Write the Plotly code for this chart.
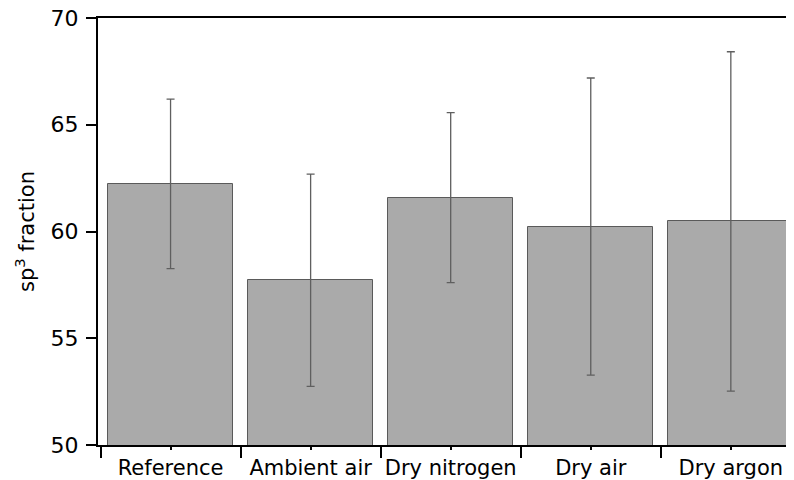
import plotly.graph_objects as go

categories = ["Reference", "Ambient air", "Dry nitrogen", "Dry air", "Dry argon"]
sp3_fraction = [62.23, 57.72, 61.59, 60.23, 60.47]
sp3_error = [3.97, 4.97, 3.98, 6.96, 7.95]
y_ticks = [50, 55, 60, 65, 70]

xpos = list(range(len(categories)))
bounds = [i - 0.5 for i in range(len(categories) + 1)]

fig = go.Figure()
fig.add_trace(go.Bar(
    x=xpos, y=sp3_fraction, width=0.893,
    marker=dict(color="#aaaaaa", line=dict(color="#5a5a5a", width=1)),
    error_y=dict(type="data", array=sp3_error, visible=True,
                 color="#5f5f5f", thickness=1.3, width=4),
))

fig.update_layout(
    width=794, height=480,
    margin=dict(l=90, r=8, t=10, b=43, autoexpand=False),
    plot_bgcolor="white", paper_bgcolor="white",
    showlegend=False,
    font=dict(family="DejaVu Sans", color="black"),
    bargap=0,
)
fig.update_xaxes(
    range=[-0.518, 4.451],
    tickmode="array", tickvals=xpos, ticktext=categories,
    ticks="outside", ticklen=3, tickwidth=1.5, tickcolor="black",
    tickfont=dict(size=21),
    showline=True, linecolor="black", linewidth=2, mirror=True,
    showgrid=False, zeroline=False,
    minor=dict(tickmode="array", tickvals=bounds, ticks="outside",
               ticklen=11, tickwidth=2, tickcolor="black", showgrid=False),
)
fig.update_yaxes(
    range=[50, 70],
    tickmode="array", tickvals=y_ticks,
    ticks="outside", ticklen=10, tickwidth=2, tickcolor="black",
    tickfont=dict(size=22), ticklabelstandoff=3, ticklabeloverflow="allow",
    showline=True, linecolor="black", linewidth=2,
    showgrid=False, zeroline=False,
    title=dict(text="sp<sup>3</sup> fraction", font=dict(size=21), standoff=10),
)

fig.write_html("out.html")
